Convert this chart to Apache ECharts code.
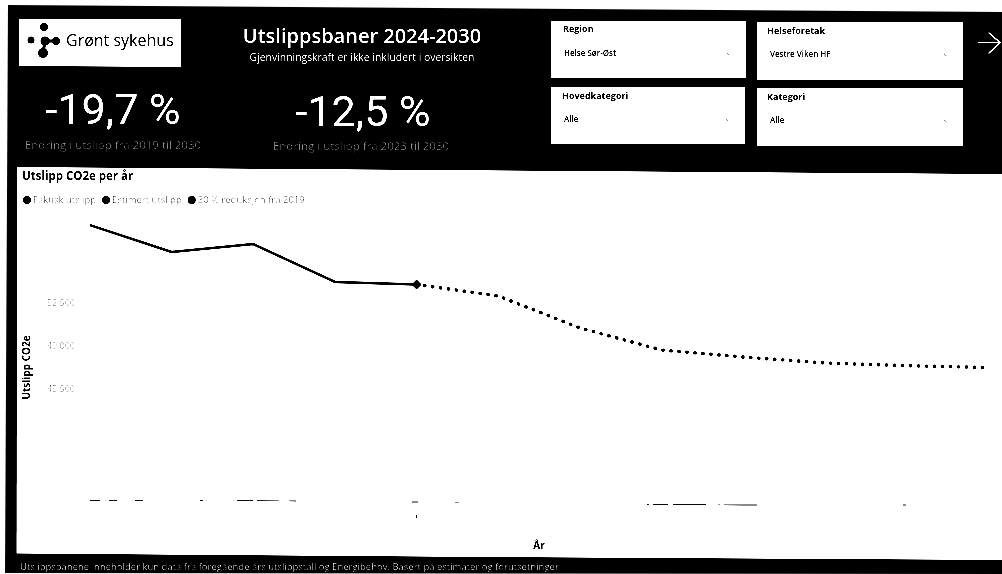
<!DOCTYPE html>
<html lang="no">
<head>
<meta charset="utf-8">
<title>Utslippsbaner 2024-2030</title>
<script src="https://cdn.jsdelivr.net/npm/echarts@6/dist/echarts.min.js"></script>
<style>
  html, body { margin: 0; padding: 0; background: #fff; overflow: hidden; }
  #chart { width: 1002px; height: 574px; filter: contrast(3.2); }
</style>
</head>
<body>
<div id="chart"></div>
<script>
// Yearly CO2e emissions, tonnes
const years = [2019, 2020, 2021, 2022, 2023, 2024, 2025, 2026, 2027, 2028, 2029, 2030];
const actual = [58840, 56650, 57300, 54210, 54005, null, null, null, null, null, null, null];
const estimated = [null, null, null, null, 54005, 53070, 50470, 48675, 48105, 47620, 47400, 47250];
const reductionTarget = [36400, 36400, 36400, 36380, 36300, 36280, 36200, 36100, 36060, 36060, 36060, 36060];
const seriesNames = ['Faktisk utslipp', 'Estimert utslipp', '30 % reduksjon fra 2019'];
const yTicksShown = [45500, 49000, 52500];

// Dashboard texts
const kpis = [
  { value: '-19,7 %', note: 'Endring i utslipp fra 2019 til 2030' },
  { value: '-12,5 %', note: 'Endring i utslipp fra 2023 til 2030' }
];
const slicers = [
  { label: 'Region', selected: 'Helse Sør-Øst' },
  { label: 'Helseforetak', selected: 'Vestre Viken HF' },
  { label: 'Hovedkategori', selected: 'Alle' },
  { label: 'Kategori', selected: 'Alle' }
];
const footnote = 'Utslippsbanene inneholder kun data fra foregående års utslippstall og Energibehov. Basert på estimater og forutsetninger';

const SANS = '"Open Sans", "Noto Sans", sans-serif';

function label(text, x, y, font, fill, align) {
  return { type: 'text', silent: true, z: 10,
    style: { text, x, y, font, fill: fill, textAlign: align || 'left', textVerticalAlign: 'middle' } };
}
function poly(points, fill, z) {
  return { type: 'polygon', silent: true, z: z, shape: { points }, style: { fill } };
}
function stroke(points, color, width) {
  return { type: 'polyline', silent: true, z: 10, shape: { points },
    style: { stroke: color, lineWidth: width, fill: null, lineCap: 'round' } };
}
function dot(cx, cy, r) {
  return { type: 'circle', silent: true, z: 10, shape: { cx, cy, r }, style: { fill: '#000' } };
}

// Slicer card geometry: the frame sits slightly skewed on the page
const slicerBoxes = [
  { x0: 551, x1: 746, y0: 21, y1: 78, tx: 563, lx: 564, ty: 29, ly: 54 },
  { x0: 757, x1: 963, y0: 22, y1: 80, tx: 767, lx: 770, ty: 31, ly: 55 },
  { x0: 551, x1: 745, y0: 87, y1: 144, tx: 562, lx: 564, ty: 96, ly: 120 },
  { x0: 757, x1: 963, y0: 88, y1: 146, tx: 767, lx: 770, ty: 97, ly: 121 }
];

const frame = [
  poly([[8, 5], [1002, 12], [1002, 574], [5, 573]], '#000', -3),
  poly([[17, 167], [1002, 174], [1002, 560], [480, 557], [16.5, 553.5]], '#fff', -2),
  // logo card
  poly([[19, 19], [181, 19], [181, 67], [19, 66]], '#fff', 1),
  stroke([[45, 41], [43, 53]], '#000', 3),
  stroke([[45, 41], [56, 41]], '#000', 3),
  dot(44, 27, 4), dot(31, 40, 3.5), dot(45, 41, 4.5), dot(56, 41, 4), dot(43, 53, 5),
  label('Grønt sykehus', 66, 41, '500 16px ' + SANS, '#000'),
  // heading
  label('Utslippsbaner 2024-2030', 362, 37, '600 20px ' + SANS, '#fff', 'center'),
  label('Gjenvinningskraft er ikke inkludert i oversikten', 362, 58, '10.4px ' + SANS, '#e0e0e0', 'center'),
  // KPI figures
  label(kpis[0].value, 113, 113, '400 43px Roboto, sans-serif', '#fff', 'center'),
  label(kpis[1].value, 363, 115, '400 43px Roboto, sans-serif', '#fff', 'center'),
  label(kpis[0].note, 113, 146, '11.5px ' + SANS, '#8c8c8c', 'center'),
  label(kpis[1].note, 361, 147, '11.5px ' + SANS, '#8c8c8c', 'center'),
  // navigation arrow
  stroke([[979, 42.5], [1000, 42.5]], '#fff', 1.5),
  stroke([[989, 33], [1000, 42.5], [989, 53]], '#fff', 1.5),
  // chart heading and footnote
  label('Utslipp CO2e per år', 22, 177, '700 11.5px ' + SANS, '#000'),
  label(footnote, 20, 567, '9.5px ' + SANS, '#b4b4b4')
];

slicerBoxes.forEach((b, i) => {
  frame.push(poly([[b.x0, b.y0], [b.x1, b.y0], [b.x1, b.y1], [b.x0, b.y1]], '#fff', 1));
  frame.push(label(slicers[i].label, b.tx, b.ty, '700 9px ' + SANS, '#000'));
  frame.push(label(slicers[i].selected, b.lx, b.ly, '600 8px ' + SANS, '#000'));
  frame.push(stroke([[b.x1 - 19, b.ly - 0.5], [b.x1 - 17, b.ly + 0.5]], '#555', 1));
});

const chart = echarts.init(document.getElementById('chart'), null, { renderer: 'canvas' });
const pairs = arr => years.map((y, i) => [y, arr[i]]);

chart.setOption({
  animation: false,
  backgroundColor: 'transparent',
  graphic: frame,
  legend: {
    left: 23, top: 195, padding: 0, itemWidth: 8, itemHeight: 8, itemGap: 6, icon: 'circle',
    textStyle: { fontFamily: SANS, fontSize: 9.5, color: '#5a5a5a', padding: [0, 0, 0, -3] },
    data: [
      { name: seriesNames[0], itemStyle: { color: '#000' } },
      { name: seriesNames[1], itemStyle: { color: '#000' } },
      { name: seriesNames[2], itemStyle: { color: '#000' } }
    ]
  },
  grid: { left: 90, right: 14, top: 217, bottom: 56 },
  xAxis: {
    type: 'value', min: 2019, max: 2030, interval: 1,
    name: 'År', nameLocation: 'middle', nameGap: 23,
    nameTextStyle: { fontFamily: SANS, fontWeight: 700, fontSize: 10, color: '#000' },
    axisLine: { show: false },
    axisLabel: { show: false },
    splitLine: { show: false },
    axisTick: { show: true, inside: true, length: 3, customValues: [2023], lineStyle: { color: '#444' } }
  },
  yAxis: {
    type: 'value', min: 35000, max: 59500, interval: 3500,
    name: 'Utslipp CO2e', nameLocation: 'middle', nameGap: 58, nameRotate: 90,
    nameTextStyle: { fontFamily: SANS, fontWeight: 700, fontSize: 10, color: '#000' },
    axisLine: { show: false }, axisTick: { show: false }, splitLine: { show: false },
    axisLabel: {
      margin: 15, fontFamily: SANS, fontSize: 9, color: '#6a6a6a',
      formatter: v => yTicksShown.includes(v) ? String(v).replace(/(\d{3})$/, ' $1') : ''
    }
  },
  series: [
    {
      name: seriesNames[0], type: 'line', data: pairs(actual), showAllSymbol: true,
      symbol: (v, p) => p.dataIndex === 4 ? 'diamond' : 'none', symbolSize: 10,
      lineStyle: { color: '#000', width: 2.5 }, itemStyle: { color: '#000' }, z: 3
    },
    {
      name: seriesNames[1], type: 'line', data: pairs(estimated), symbol: 'none',
      lineStyle: { color: '#000', width: 3.4, type: [0.5, 7.5], cap: 'round' }, itemStyle: { color: '#000' }, z: 2
    },
    {
      name: seriesNames[2], type: 'line', data: pairs(reductionTarget), symbol: 'none',
      lineStyle: { color: '#5a5a5a', width: 1.4,
        type: [10, 9, 8, 18, 8, 57, 3, 34, 16, 4, 22, 10, 7, 116, 6, 37, 4, 188, 2, 4, 15, 5, 33, 12, 2, 4, 33, 146, 3, 200] },
      itemStyle: { color: '#000' }, z: 1
    }
  ]
});
</script>
</body>
</html>
